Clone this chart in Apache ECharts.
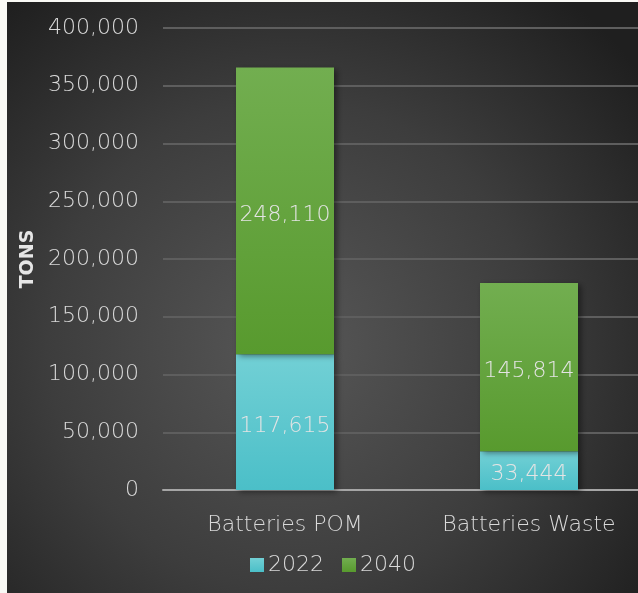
<!DOCTYPE html>
<html>
<head>
<meta charset="utf-8">
<script src="https://cdn.jsdelivr.net/npm/echarts@6/dist/echarts.min.js"></script>
<style>
  html, body { margin: 0; padding: 0; background: #f9f9f5; }
  #chart { width: 638px; height: 593px; }
</style>
</head>
<body>
<div id="chart"></div>
<script>
// Battery tonnage: placed on market vs. waste, 2022 and 2040
const categories = ['Batteries POM', 'Batteries Waste'];
const seriesNames = ['2022', '2040'];
const values2022 = [117615, 33444];
const values2040 = [248110, 145814];
const yTicks = { min: 0, max: 400000, interval: 50000 };

const FONT = '"DejaVu Sans", sans-serif';
const TEXT = '#d9d9d9';
const LIGHT = 300;
const SIZE = 22;

const chart = echarts.init(document.getElementById('chart'), null, { renderer: 'canvas' });

function grad(top, bottom) {
  return new echarts.graphic.LinearGradient(0, 0, 0, 1, [
    { offset: 0, color: top },
    { offset: 1, color: bottom }
  ]);
}

const tealFill = grad('#72d0d5', '#4bbfc8');
const greenFill = grad('#72ae50', '#589a2e');

const fmt = v => v.toLocaleString('en-US');

const valueLabel = {
  show: true, position: 'inside', offset: [0, 4], color: '#e4e4e4',
  fontFamily: FONT, fontWeight: LIGHT, fontSize: SIZE,
  formatter: p => fmt(p.value)
};
const barShadow = { shadowColor: 'rgba(0,0,0,0.45)', shadowBlur: 6, shadowOffsetX: 3, shadowOffsetY: 2 };

chart.setOption({
  backgroundColor: 'transparent',
  graphic: [{
    type: 'rect',
    z: -10,
    silent: true,
    shape: { x: 7, y: 2, width: 631, height: 591 },
    style: {
      fill: new echarts.graphic.RadialGradient(0.45, 0.58, 0.75, [
        { offset: 0, color: '#575757' },
        { offset: 0.55, color: '#3d3d3d' },
        { offset: 1, color: '#1f1f1f' }
      ])
    }
  }],
  grid: { left: 163, top: 28, width: 488, height: 462, outerBoundsMode: 'none' },
  legend: {
    data: seriesNames,
    top: 554,
    left: 250,
    padding: 0,
    itemWidth: 14,
    itemHeight: 14,
    itemGap: 18,
    icon: 'rect',
    textStyle: { color: TEXT, fontFamily: FONT, fontWeight: LIGHT, fontSize: SIZE, padding: [0, 0, 0, -1] }
  },
  xAxis: {
    type: 'category',
    data: categories,
    axisLine: { lineStyle: { color: '#a6a6a6', width: 2 } },
    axisTick: { show: false },
    axisLabel: { color: TEXT, fontFamily: FONT, fontWeight: LIGHT, fontSize: SIZE, margin: 24 }
  },
  yAxis: {
    type: 'value',
    min: yTicks.min,
    max: yTicks.max,
    interval: yTicks.interval,
    name: 'TONS',
    nameLocation: 'middle',
    nameGap: 122,
    nameRotate: 90,
    nameTextStyle: { color: '#e6e6e6', fontFamily: FONT, fontSize: 19, fontWeight: 'bold' },
    axisLine: { show: false },
    axisTick: { show: false },
    splitLine: { lineStyle: { color: '#5e5e5e', width: 2 } },
    axisLabel: {
      color: TEXT, fontFamily: FONT, fontWeight: LIGHT, fontSize: SIZE, margin: 24,
      formatter: fmt
    }
  },
  series: [
    {
      name: seriesNames[0],
      type: 'bar',
      stack: 'total',
      data: values2022,
      barWidth: 98,
      itemStyle: Object.assign({ color: tealFill }, barShadow),
      label: valueLabel
    },
    {
      name: seriesNames[1],
      type: 'bar',
      stack: 'total',
      data: values2040,
      barWidth: 98,
      itemStyle: Object.assign({ color: greenFill }, barShadow),
      label: valueLabel
    }
  ]
});
</script>
</body>
</html>
